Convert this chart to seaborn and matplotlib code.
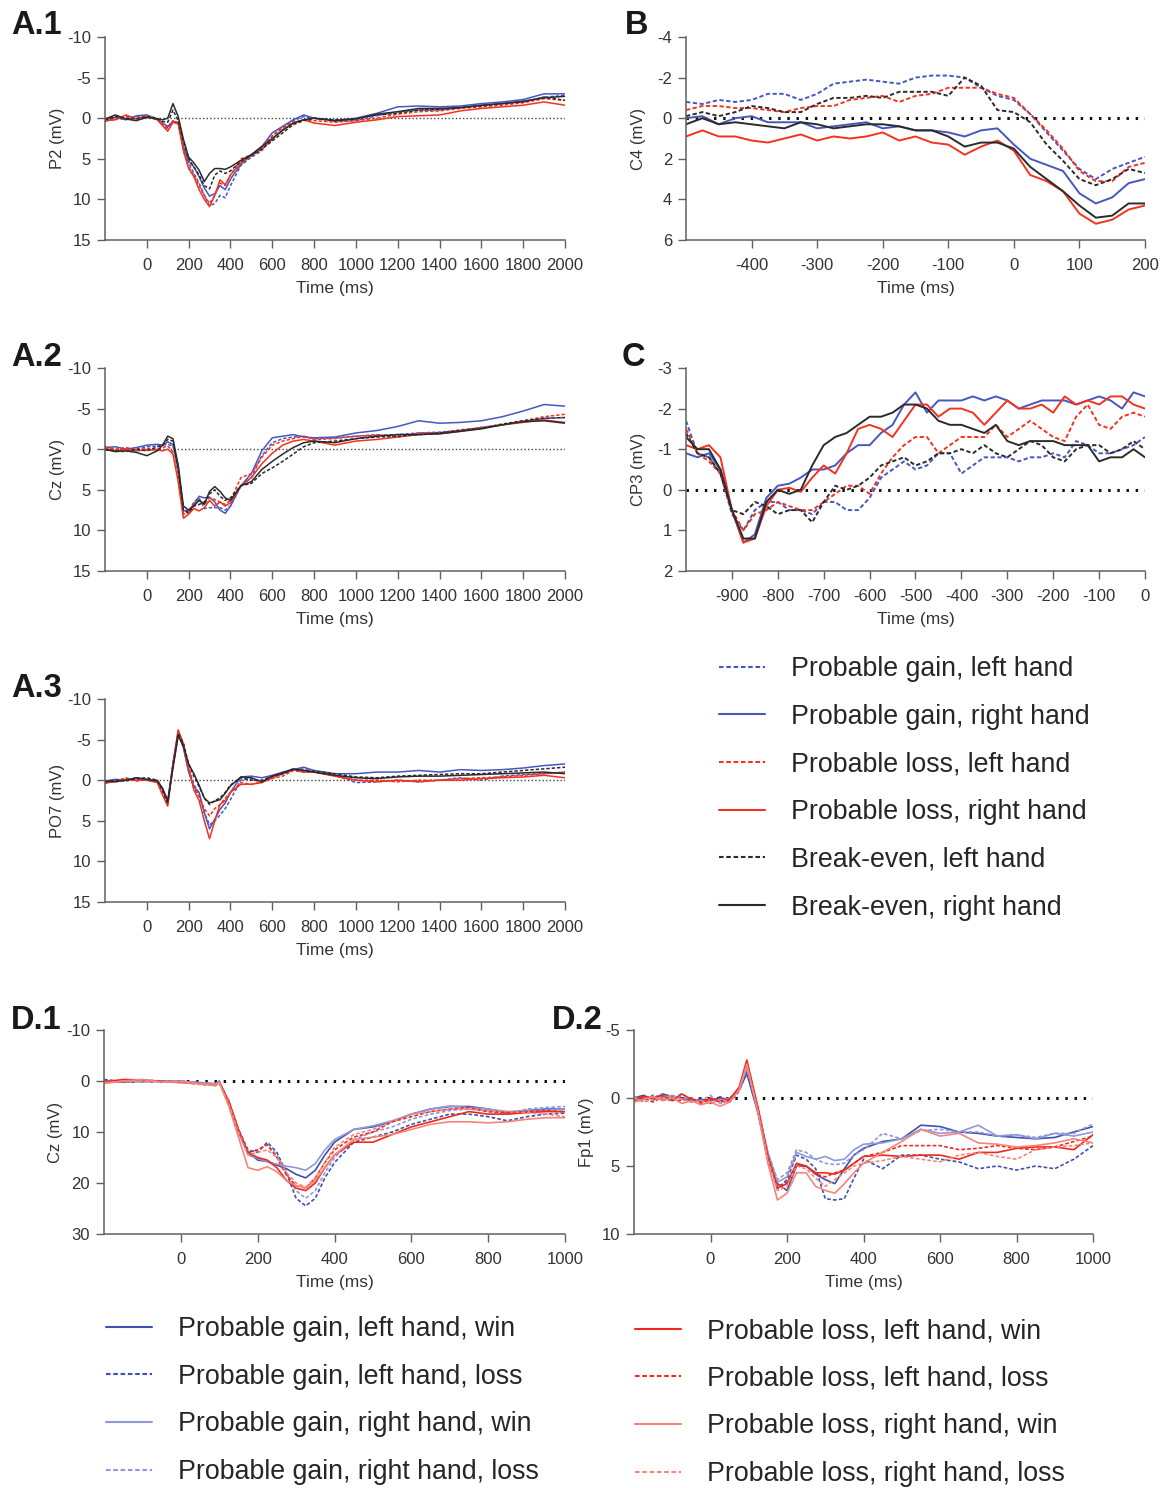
import numpy as np
import pandas as pd
import matplotlib
matplotlib.use("Agg")
import matplotlib.pyplot as plt
from matplotlib.lines import Line2D
import seaborn as sns

sns.set_theme(style="ticks")
plt.rcParams.update({
    'axes.unicode_minus': False,
    'axes.edgecolor': '#606060',
    'axes.linewidth': 1.1,
    'xtick.color': '#606060',
    'ytick.color': '#606060',
    'xtick.labelcolor': '#333333',
    'ytick.labelcolor': '#333333',
    'axes.labelcolor': '#333333',
})
plt.rcParams['font.family'] = ['Liberation Sans', 'DejaVu Sans']

# ---------------- data (µV, positive plotted downwards) ----------------
# A panels: stimulus-locked, -200..2000 ms
T_A = [-200, -150, -100, -50, 0, 50, 75, 100, 125, 150, 175, 200, 225, 250, 275, 300, 325, 350,
       375, 400, 450, 500, 550, 600, 650, 700, 750, 800, 900, 1000, 1100, 1200, 1300, 1400, 1500,
       1600, 1700, 1800, 1900, 2000]

a1_gain_left = [0.3, 0.0, 0.1, -0.2, -0.3, 0.2, 0.8, 1.2, 0.5, 0.6, 3.5, 5.5, 6.8, 8.0, 9.5, 10.8, 10.5, 9.5,
                9.8, 8.3, 5.8, 4.8, 4.0, 2.2, 1.2, 0.3, -0.2, 0.0, 0.4, 0.3, -0.3, -0.8, -1.0, -1.0, -1.3,
                -1.6, -1.8, -2.0, -2.6, -2.8]
a1_gain_right = [0.2, -0.1, 0.2, -0.3, -0.4, 0.1, 0.6, 1.0, 0.4, 0.5, 3.5, 5.3, 6.0, 7.2, 8.6, 9.6, 9.3, 8.3,
                 8.8, 7.5, 5.7, 4.5, 3.5, 1.8, 1.0, 0.2, -0.4, 0.0, 0.3, 0.0, -0.6, -1.4, -1.5, -1.4, -1.5,
                 -1.8, -2.0, -2.3, -3.0, -3.0]
a1_loss_left = [0.4, 0.1, -0.2, 0.0, -0.2, 0.1, 0.7, 1.3, 0.3, 0.6, 4.0, 6.0, 7.0, 8.3, 9.5, 10.5, 9.5, 8.0,
                8.3, 7.0, 5.0, 4.5, 3.5, 2.2, 1.0, 0.5, 0.2, 0.3, 0.5, 0.3, 0.0, -0.5, -0.8, -0.9, -1.2,
                -1.4, -1.6, -1.9, -2.4, -2.2]
a1_loss_right = [0.3, 0.2, -0.4, 0.1, -0.3, 0.2, 0.9, 1.6, 0.5, 0.7, 4.0, 6.2, 7.2, 8.8, 10.0, 10.9, 9.5, 7.6,
                 8.2, 7.0, 5.5, 4.6, 3.8, 2.6, 1.4, 0.6, 0.2, 0.6, 0.9, 0.5, 0.2, -0.2, -0.3, -0.4, -0.9,
                 -1.2, -1.4, -1.6, -2.0, -1.6]
a1_even_left = [0.2, -0.2, 0.0, 0.1, -0.2, 0.0, 0.4, 0.5, -1.0, 0.3, 2.8, 5.0, 6.0, 7.0, 8.3, 8.7, 7.0, 6.5,
                6.8, 6.5, 5.3, 4.6, 3.8, 2.8, 1.8, 0.8, 0.3, 0.0, 0.2, 0.1, -0.4, -0.6, -1.0, -1.1, -1.3,
                -1.5, -1.8, -2.0, -2.6, -2.2]
a1_even_right = [0.1, -0.4, 0.1, 0.3, -0.1, 0.1, 0.2, 0.0, -1.8, -0.2, 2.6, 4.8, 5.5, 6.4, 7.8, 6.8, 6.2, 6.2,
                 6.3, 6.0, 5.2, 4.5, 3.5, 2.5, 1.5, 0.6, 0.2, 0.0, 0.3, 0.1, -0.5, -0.8, -1.2, -1.2, -1.3,
                 -1.6, -1.8, -2.1, -2.5, -2.7]

a2_gain_left = [-0.2, 0.1, -0.1, 0.0, -0.3, -0.4, -0.5, -0.6, -0.4, 2.5, 7.8, 7.8, 6.5, 6.0, 7.3, 7.2, 7.2, 7.2,
                7.5, 7.0, 4.5, 3.5, 0.8, -0.8, -1.3, -1.5, -1.6, -1.3, -1.4, -1.6, -1.7, -1.8, -2.0, -2.1,
                -2.3, -2.7, -3.0, -3.4, -3.8, -3.9]
a2_gain_right = [-0.2, -0.3, 0.0, -0.2, -0.5, -0.6, -0.5, -0.9, -0.6, 2.0, 7.6, 7.5, 6.8, 5.8, 6.0, 5.9, 6.5, 7.5,
                 7.9, 7.0, 4.5, 3.0, 0.2, -1.4, -1.6, -1.8, -1.5, -1.4, -1.5, -2.0, -2.3, -2.8, -3.5, -3.2,
                 -3.3, -3.5, -4.0, -4.7, -5.5, -5.3]
a2_loss_left = [-0.3, 0.0, -0.2, 0.1, -0.1, 0.0, -0.2, -0.4, 0.3, 3.5, 8.0, 7.8, 6.8, 6.2, 6.8, 6.0, 6.2, 6.5,
                6.8, 6.3, 3.5, 3.0, 1.0, -0.5, -1.0, -1.3, -1.6, -1.2, -1.3, -1.6, -1.8, -1.5, -2.0, -2.0,
                -2.4, -2.6, -3.0, -3.5, -4.0, -4.3]
a2_loss_right = [-0.1, 0.2, 0.0, 0.2, 0.1, 0.1, 0.2, 0.0, 0.6, 4.0, 8.5, 8.0, 7.3, 7.6, 7.2, 6.3, 7.0, 6.5,
                 7.0, 6.6, 4.5, 3.5, 1.8, 0.5, -0.5, -1.0, -1.2, -1.0, -0.5, -1.0, -1.2, -1.5, -1.8, -1.9,
                 -2.2, -2.6, -3.0, -3.3, -3.6, -3.3]
a2_even_left = [0.1, 0.2, 0.3, 0.0, 0.2, -0.3, -0.5, -1.2, -1.0, 2.5, 7.5, 7.8, 7.0, 6.8, 6.5, 5.5, 5.0, 5.8,
                6.3, 6.0, 4.5, 4.2, 3.0, 2.3, 1.5, 0.6, -0.3, -0.8, -1.0, -1.3, -1.5, -1.6, -1.8, -2.0,
                -2.3, -2.6, -3.1, -3.5, -3.8, -3.9]
a2_even_right = [0.0, 0.3, 0.2, 0.4, 0.8, 0.2, -0.5, -1.6, -1.3, 2.0, 7.0, 7.5, 7.0, 6.3, 6.8, 5.2, 4.6, 5.2,
                 6.0, 6.3, 4.5, 4.0, 2.5, 1.5, 0.6, -0.2, -0.8, -1.0, -0.8, -1.3, -1.6, -1.8, -1.8, -1.9,
                 -2.2, -2.5, -3.0, -3.4, -3.5, -3.2]

a3_gain_left = [0.2, 0.0, -0.2, -0.1, 0.0, 0.1, 1.2, 2.8, -1.5, -5.5, -4.5, -1.5, 0.5, 1.8, 4.0, 5.5, 5.0, 4.3,
                3.5, 2.4, 0.0, -0.2, 0.3, -0.4, -0.8, -1.2, -1.4, -1.0, -0.6, 0.3, 0.2, 0.0, 0.2, 0.0,
                -0.3, 0.0, -0.5, -0.7, -0.8, -1.0]
a3_gain_right = [0.1, -0.1, 0.0, -0.3, 0.0, 0.0, 1.0, 2.5, -2.0, -5.8, -4.0, -1.0, 0.8, 1.5, 4.0, 6.0, 4.8, 3.6,
                 2.8, 1.5, -0.4, -0.5, -0.3, -0.6, -1.0, -1.3, -1.6, -1.2, -0.8, -0.8, -1.0, -1.0, -1.2,
                 -1.0, -1.3, -1.2, -1.3, -1.5, -1.8, -2.0]
a3_loss_left = [0.3, 0.2, -0.3, 0.1, -0.1, 0.2, 1.5, 3.0, -2.0, -6.0, -4.0, -1.2, 1.0, 2.0, 3.5, 4.4, 3.5, 3.0,
                2.2, 1.5, 0.3, 0.5, 0.2, -0.2, -0.5, -1.2, -1.0, -1.0, -0.5, 0.0, 0.0, 0.2, 0.0, 0.0, -0.2,
                -0.3, -0.4, -0.6, -0.8, -1.0]
a3_loss_right = [0.4, 0.1, -0.1, 0.0, 0.0, 0.3, 1.8, 3.2, -2.0, -6.2, -4.5, -1.5, 1.2, 2.5, 5.0, 7.2, 5.0, 3.0,
                 2.5, 1.5, 0.5, 0.5, 0.3, -0.3, -0.8, -1.3, -1.0, -1.0, -0.5, 0.0, 0.2, 0.0, 0.2, 0.0, 0.0,
                 -0.2, -0.3, -0.4, -0.6, -0.3]
a3_even_left = [0.2, 0.0, 0.1, -0.2, -0.3, 0.0, 1.2, 2.8, -1.8, -5.8, -4.5, -2.0, -0.5, 0.8, 2.2, 3.0, 2.5, 2.2,
                1.5, 0.6, -0.3, 0.0, 0.0, -0.5, -0.8, -1.3, -1.2, -1.1, -0.8, -0.4, -0.3, -0.5, -0.6, -0.7,
                -0.8, -0.8, -1.0, -1.2, -1.4, -1.6]
a3_even_right = [0.1, 0.2, 0.0, -0.3, -0.1, 0.1, 1.0, 2.6, -1.5, -5.5, -4.2, -2.0, -0.8, 0.6, 2.2, 2.8, 2.6, 2.4,
                 1.6, 0.7, -0.4, -0.3, 0.2, -0.5, -0.9, -1.4, -1.2, -1.0, -0.6, -0.3, -0.2, -0.4, -0.5,
                 -0.5, -0.6, -0.7, -0.8, -0.9, -1.0, -0.8]

# B: response-locked C4, -500..200 ms
T_B = [-500, -475, -450, -425, -400, -375, -350, -325, -300, -275, -250, -225, -200, -175, -150, -125,
       -100, -75, -50, -25, 0, 25, 50, 75, 100, 125, 150, 175, 200]
b_gain_left = [-0.8, -0.7, -0.9, -0.8, -0.9, -1.2, -1.2, -0.9, -1.2, -1.7, -1.8, -1.9, -1.8, -1.7, -2.0,
               -2.1, -2.1, -2.0, -1.5, -1.1, -0.9, -0.2, 0.7, 1.6, 2.5, 3.0, 2.5, 2.2, 1.9]
b_gain_right = [0.0, -0.1, 0.3, 0.0, -0.1, 0.2, 0.2, 0.2, 0.5, 0.4, 0.3, 0.2, 0.5, 0.4, 0.6, 0.6, 0.7, 0.9,
                0.6, 0.5, 1.3, 2.0, 2.3, 2.6, 3.7, 4.2, 3.9, 3.2, 3.0]
b_loss_left = [-0.4, -0.6, -0.6, -0.5, -0.5, -0.4, -0.3, -0.5, -0.6, -0.6, -0.9, -1.0, -1.1, -0.8, -1.1,
               -1.2, -1.5, -1.5, -1.5, -1.2, -1.0, -0.2, 0.6, 1.5, 2.6, 3.1, 3.1, 2.4, 2.2]
b_loss_right = [0.9, 0.6, 0.9, 0.9, 1.1, 1.2, 1.0, 0.8, 1.1, 0.9, 1.0, 0.9, 0.7, 1.1, 0.9, 1.2, 1.3, 1.8,
                1.4, 1.1, 1.6, 2.8, 3.1, 3.6, 4.7, 5.2, 5.0, 4.5, 4.3]
b_even_left = [-0.1, -0.3, -0.1, -0.3, -0.6, -0.5, -0.3, -0.3, -0.7, -1.0, -1.0, -1.1, -1.0, -1.3, -1.3,
               -1.3, -1.1, -2.0, -1.6, -0.4, -0.3, 0.2, 1.3, 2.1, 3.0, 3.3, 3.0, 2.5, 2.7]
b_even_right = [0.3, 0.0, 0.3, 0.2, 0.3, 0.4, 0.5, 0.2, 0.3, 0.5, 0.4, 0.3, 0.3, 0.4, 0.6, 0.6, 0.9, 1.4,
                1.2, 1.2, 1.5, 2.4, 3.0, 3.6, 4.3, 4.9, 4.8, 4.2, 4.2]

# C: response-locked CP3, -1000..0 ms
T_C = [-1000, -975, -950, -925, -900, -875, -850, -825, -800, -775, -750, -725, -700, -675, -650, -625,
       -600, -575, -550, -525, -500, -475, -450, -425, -400, -375, -350, -325, -300, -275, -250, -225,
       -200, -175, -150, -125, -100, -75, -50, -25, 0]
c_gain_left = [-1.7, -0.9, -0.8, -0.4, 0.6, 1.0, 0.5, 0.3, 0.3, 0.5, 0.5, 0.6, 0.3, 0.3, 0.5, 0.5, 0.2,
               -0.3, -0.5, -0.7, -0.5, -0.6, -0.9, -0.9, -0.4, -0.6, -0.8, -0.8, -0.8, -0.7, -0.8, -0.8,
               -0.9, -0.8, -1.2, -1.1, -0.9, -0.9, -1.0, -1.1, -1.3]
c_gain_right = [-0.9, -0.8, -0.9, -0.5, 0.5, 1.3, 1.1, 0.2, -0.1, -0.15, -0.3, -0.5, -0.5, -0.6, -0.9, -1.1,
                -1.1, -1.4, -1.6, -2.1, -2.4, -1.9, -2.2, -2.2, -2.2, -2.3, -2.2, -2.3, -2.2, -2.0, -2.1,
                -2.2, -2.2, -2.2, -2.1, -2.2, -2.3, -2.2, -2.0, -2.4, -2.3]
c_loss_left = [-1.5, -0.9, -0.7, -0.4, 0.5, 1.0, 0.6, 0.5, 0.3, 0.4, 0.5, 0.5, 0.3, 0.1, -0.1, -0.1, 0.1,
               -0.4, -0.8, -1.1, -1.3, -1.3, -0.9, -1.1, -1.3, -1.3, -1.3, -1.6, -1.3, -1.5, -1.7, -1.5,
               -1.3, -1.2, -1.8, -2.1, -1.6, -1.5, -1.8, -1.9, -1.8]
c_loss_right = [-1.1, -1.0, -1.1, -0.8, 0.5, 1.3, 1.2, 0.4, 0.0, -0.05, 0.05, -0.3, -0.6, -0.4, -0.9, -1.5,
                -1.6, -1.5, -1.3, -1.7, -2.1, -2.1, -1.8, -2.0, -2.0, -1.9, -1.6, -1.9, -2.2, -2.0, -2.0,
                -2.1, -1.9, -2.3, -2.1, -2.2, -2.1, -2.3, -2.3, -2.1, -2.0]
c_even_left = [-1.4, -0.9, -0.8, -0.4, 0.5, 0.6, 0.3, 0.4, 0.6, 0.5, 0.5, 0.8, 0.3, -0.1, 0.0, -0.1, -0.3,
               -0.6, -0.7, -0.8, -0.6, -0.7, -0.9, -0.9, -1.0, -0.9, -1.1, -0.9, -0.8, -1.0, -1.2, -1.1,
               -0.8, -0.7, -1.0, -1.1, -1.1, -0.9, -1.0, -1.2, -1.0]
c_even_right = [-1.3, -1.0, -1.0, -0.5, 0.5, 1.2, 1.2, 0.3, 0.0, 0.1, 0.0, -0.6, -1.1, -1.3, -1.4, -1.6,
                -1.8, -1.8, -1.9, -2.1, -2.1, -2.0, -1.7, -1.6, -1.6, -1.5, -1.4, -1.6, -1.2, -1.1, -1.2,
                -1.2, -1.2, -1.1, -1.1, -1.1, -0.7, -0.8, -0.8, -1.0, -0.8]

# D.1: feedback-locked Cz, -200..1000 ms
T_D1 = [-200, -150, -100, -50, 0, 50, 90, 100, 125, 150, 175, 200, 225, 250, 275, 300, 325, 350, 375, 400,
        450, 500, 550, 600, 650, 700, 750, 800, 850, 900, 950, 1000]
d1_gl_win = [0.0, 0.2, 0.0, 0.1, 0.0, 0.4, 0.6, 0.0, 4.5, 10.0, 14.0, 15.5, 15.8, 16.5, 17.2, 18.3, 19.0,
             17.5, 14.5, 12.0, 9.5, 9.0, 8.0, 6.5, 5.5, 5.0, 5.0, 5.5, 6.3, 5.8, 5.5, 5.5]
d1_gl_loss = [-0.3, 0.1, -0.2, 0.0, 0.2, 0.5, 0.7, 0.2, 4.0, 9.5, 13.5, 14.0, 12.0, 14.0, 18.0, 23.0, 24.5,
              23.0, 19.0, 16.0, 12.0, 11.0, 10.0, 8.5, 7.5, 6.5, 6.5, 7.0, 7.8, 7.0, 6.5, 6.3]
d1_gr_win = [0.1, 0.0, 0.2, 0.0, 0.1, 0.3, 0.5, 0.1, 4.5, 10.0, 14.5, 15.2, 15.8, 16.3, 16.7, 17.0, 17.5,
             16.2, 13.5, 11.5, 9.5, 8.8, 7.8, 6.5, 5.5, 4.9, 5.2, 5.5, 6.0, 5.8, 5.7, 5.5]
d1_gr_loss = [0.2, -0.2, 0.1, 0.2, 0.0, 0.6, 0.8, 0.3, 4.0, 9.5, 14.0, 13.5, 12.5, 14.5, 18.0, 21.5, 23.0,
              21.5, 18.0, 15.0, 11.5, 10.0, 9.0, 7.5, 6.5, 5.8, 5.5, 6.0, 6.5, 5.5, 5.2, 5.0]
d1_ll_win = [0.2, -0.3, -0.2, 0.1, 0.3, 0.5, 0.8, 0.2, 4.0, 9.5, 14.0, 15.0, 15.5, 17.0, 19.5, 21.0, 21.5,
             20.0, 17.0, 14.5, 12.0, 12.0, 10.5, 9.0, 8.0, 7.0, 6.0, 6.5, 6.5, 6.2, 6.0, 6.0]
d1_ll_loss = [0.0, 0.2, -0.1, 0.1, 0.2, 0.6, 0.9, 0.4, 4.5, 10.0, 14.0, 13.5, 12.5, 15.0, 18.5, 20.5, 21.0,
              19.0, 16.0, 13.5, 11.0, 10.0, 8.0, 7.0, 6.0, 5.5, 5.2, 6.0, 6.2, 6.0, 5.8, 6.0]
d1_lr_win = [0.5, 0.0, -0.3, 0.2, 0.1, 0.5, 0.7, 0.2, 5.0, 11.0, 17.0, 17.5, 16.8, 17.8, 19.5, 20.5, 21.0,
             19.5, 17.0, 14.5, 11.5, 11.0, 10.5, 9.5, 8.5, 8.0, 8.0, 8.2, 8.0, 7.5, 7.2, 7.2]
d1_lr_loss = [0.3, 0.1, 0.0, 0.2, 0.3, 0.7, 0.9, 0.3, 4.5, 10.0, 14.5, 14.0, 13.5, 15.0, 18.0, 20.0, 20.8,
              19.0, 16.0, 13.0, 10.5, 9.5, 8.0, 6.5, 6.0, 5.5, 5.5, 5.8, 6.0, 6.2, 6.5, 7.0]

# D.2: feedback-locked Fp1, -200..1000 ms
T_D2 = [-200, -175, -150, -125, -100, -75, -50, -25, 0, 25, 50, 75, 95, 125, 150, 175, 200, 225, 250, 275,
        300, 325, 350, 375, 400, 450, 500, 550, 600, 650, 700, 750, 800, 850, 900, 950, 1000]
d2_gl_win = [0.0, -0.2, 0.1, -0.3, -0.1, 0.0, 0.2, 0.1, 0.2, 0.0, 0.1, -0.6, -1.8, 1.2, 4.5, 6.3, 6.8, 5.0,
             5.0, 5.6, 6.0, 6.3, 5.2, 4.2, 3.7, 3.2, 3.0, 2.0, 2.1, 2.5, 2.6, 2.8, 2.9, 3.0, 2.9, 2.5, 2.1]
d2_gl_loss = [0.1, 0.2, -0.2, 0.0, 0.2, -0.1, 0.3, 0.0, 0.4, -0.1, 0.3, -0.5, -2.0, 1.0, 4.3, 6.7, 6.0, 4.2,
              4.5, 5.2, 7.4, 7.5, 7.4, 5.9, 4.5, 5.2, 4.2, 4.2, 4.5, 4.7, 5.2, 5.0, 5.3, 5.0, 5.2, 4.5, 3.5]
d2_gr_win = [0.2, 0.0, -0.1, 0.1, -0.2, 0.1, 0.0, 0.3, 0.1, 0.2, 0.0, -0.7, -2.2, 1.0, 4.0, 6.2, 5.8, 4.0,
             4.3, 4.5, 4.3, 4.6, 4.5, 3.8, 3.4, 3.3, 3.0, 2.3, 2.6, 2.5, 2.0, 2.8, 2.7, 3.0, 2.6, 2.8, 2.5]
d2_gr_loss = [-0.1, 0.1, 0.2, -0.2, 0.0, -0.3, 0.1, 0.2, -0.2, 0.4, 0.2, -0.6, -2.2, 0.8, 4.0, 6.0, 5.5, 3.8,
              4.0, 4.5, 4.8, 4.9, 4.8, 4.2, 3.8, 2.6, 3.0, 2.4, 2.3, 2.5, 2.5, 2.8, 2.7, 2.9, 2.6, 2.6, 1.9]
d2_ll_win = [0.1, -0.1, 0.0, -0.2, 0.2, -0.3, 0.1, 0.3, 0.0, 0.2, 0.1, -0.8, -2.8, 0.8, 4.3, 6.6, 6.3, 4.8,
             5.0, 5.5, 5.5, 5.6, 5.3, 4.8, 4.3, 4.2, 4.3, 4.2, 4.2, 4.5, 4.0, 4.0, 3.7, 3.6, 3.6, 3.8, 2.7]
d2_ll_loss = [0.2, 0.0, 0.3, -0.1, 0.1, 0.2, 0.0, 0.4, 0.1, 0.3, 0.2, -0.7, -2.6, 0.9, 4.3, 6.5, 6.2, 4.9,
              5.0, 5.6, 5.8, 5.5, 5.3, 4.8, 4.3, 4.0, 3.5, 3.5, 3.5, 3.8, 3.7, 3.5, 3.7, 3.8, 3.6, 3.2, 2.8]
d2_lr_win = [0.3, 0.1, -0.1, 0.2, 0.0, 0.4, 0.2, 0.5, 0.3, 0.6, 0.3, -0.6, -2.5, 1.2, 4.8, 7.5, 7.0, 5.5,
             5.5, 6.5, 6.8, 7.0, 6.3, 5.5, 4.8, 4.0, 3.2, 2.3, 2.8, 2.6, 3.3, 3.4, 3.6, 3.5, 3.3, 3.0, 3.3]
d2_lr_loss = [0.0, 0.3, 0.1, 0.0, -0.2, 0.1, 0.3, 0.2, 0.4, 0.1, 0.3, -0.6, -2.4, 1.0, 4.5, 6.8, 6.5, 5.0,
              5.2, 5.9, 6.5, 6.0, 5.5, 5.0, 4.8, 4.6, 4.3, 4.5, 4.7, 4.2, 4.0, 4.3, 4.5, 3.8, 3.6, 3.5, 3.3]

ABC_LABELS = ['Probable gain, left hand', 'Probable gain, right hand', 'Probable loss, left hand',
              'Probable loss, right hand', 'Break-even, left hand', 'Break-even, right hand']
D_LABELS = ['Probable gain, left hand, win', 'Probable gain, left hand, loss',
            'Probable gain, right hand, win', 'Probable gain, right hand, loss',
            'Probable loss, left hand, win', 'Probable loss, left hand, loss',
            'Probable loss, right hand, win', 'Probable loss, right hand, loss']

# ---------------- styles ----------------
BLUE, RED, BLACK = '#4657c0', '#f4321e', '#2b2b2b'
DBLUE, LBLUE, DRED, LRED = '#3f50ae', '#8f99da', '#ee2a18', '#f5857b'
DASH = (2.2, 1.3)
abc_colors = dict(zip(ABC_LABELS, [BLUE, BLUE, RED, RED, BLACK, BLACK]))
abc_dashes = dict(zip(ABC_LABELS, [DASH, '', DASH, '', DASH, '']))
d_colors = dict(zip(D_LABELS, [DBLUE, DBLUE, LBLUE, LBLUE, DRED, DRED, LRED, LRED]))
d_dashes = dict(zip(D_LABELS, ['', DASH, '', DASH, '', DASH, '', DASH]))

W, H = 1165, 1488
fig = plt.figure(figsize=(W / 100, H / 100), dpi=100)


def px_rect(left, top, right, bottom):
    return [left / W, 1 - bottom / H, (right - left) / W, (bottom - top) / H]


def draw_panel(rect, times, series, labels, colors, dashes, xlim, xticks, ylim, yticks, ylabel,
               letter, letter_xy, lw=1.1, zero_style='fine'):
    ax = fig.add_axes(px_rect(*rect))
    df = pd.concat([pd.DataFrame({'time': times, 'value': vals, 'cond': name})
                    for name, vals in zip(labels, series)], ignore_index=True)
    if zero_style == 'fine':
        ax.axhline(0, color='#444444', lw=1.0, ls=(0, (1, 1.6)), zorder=1)
    else:
        ax.axhline(0, color='#111111', lw=2.2, ls=(0, (0.8, 2.2)), zorder=1)
    sns.lineplot(data=df, x='time', y='value', hue='cond', style='cond', palette=colors, dashes=dashes,
                 hue_order=labels, style_order=labels, estimator=None, sort=False, legend=False,
                 linewidth=lw, ax=ax)
    ax.set_xlim(*xlim)
    ax.set_ylim(*ylim)
    ax.set_xticks(xticks)
    ax.set_yticks(yticks)
    ax.set_xlabel('Time (ms)', fontsize=12.5, labelpad=6)
    ax.set_ylabel(ylabel, fontsize=12)
    ax.yaxis.set_label_coords(-0.088, 0.5)
    ax.tick_params(direction='out', length=6, width=1.0, labelsize=12)
    ax.tick_params(axis='x', pad=7)
    ax.tick_params(axis='y', pad=4)
    sns.despine(ax=ax)
    fig.text(letter_xy[0] / W, 1 - letter_xy[1] / H, letter, fontsize=23.5, fontweight='bold',
             color='#1a1a1a', va='baseline', ha='left')
    return ax


a_ticks = list(range(0, 2001, 200))
draw_panel((105, 37, 565, 240), T_A,
           [a1_gain_left, a1_gain_right, a1_loss_left, a1_loss_right, a1_even_left, a1_even_right],
           ABC_LABELS, abc_colors, abc_dashes, (-200, 2000), a_ticks, (15, -10), [-10, -5, 0, 5, 10, 15],
           'P2 (mV)', 'A.1', (11, 34))
draw_panel((105, 368, 565, 571), T_A,
           [a2_gain_left, a2_gain_right, a2_loss_left, a2_loss_right, a2_even_left, a2_even_right],
           ABC_LABELS, abc_colors, abc_dashes, (-200, 2000), a_ticks, (15, -10), [-10, -5, 0, 5, 10, 15],
           'Cz (mV)', 'A.2', (11, 366))
draw_panel((105, 699, 565, 902), T_A,
           [a3_gain_left, a3_gain_right, a3_loss_left, a3_loss_right, a3_even_left, a3_even_right],
           ABC_LABELS, abc_colors, abc_dashes, (-200, 2000), a_ticks, (15, -10), [-10, -5, 0, 5, 10, 15],
           'PO7 (mV)', 'A.3', (11, 697))
draw_panel((686, 37, 1145, 240), T_B,
           [b_gain_left, b_gain_right, b_loss_left, b_loss_right, b_even_left, b_even_right],
           ABC_LABELS, abc_colors, abc_dashes, (-500, 200), list(range(-400, 201, 100)), (6, -4),
           [-4, -2, 0, 2, 4, 6], 'C4 (mV)', 'B', (625, 34), lw=1.4, zero_style='bold')
draw_panel((686, 368, 1145, 571), T_C,
           [c_gain_left, c_gain_right, c_loss_left, c_loss_right, c_even_left, c_even_right],
           ABC_LABELS, abc_colors, abc_dashes, (-1000, 0), list(range(-900, 1, 100)), (2, -3),
           [-3, -2, -1, 0, 1, 2], 'CP3 (mV)', 'C', (622, 366), lw=1.4, zero_style='bold')
draw_panel((104, 1030, 565, 1234), T_D1,
           [d1_gl_win, d1_gl_loss, d1_gr_win, d1_gr_loss, d1_ll_win, d1_ll_loss, d1_lr_win, d1_lr_loss],
           D_LABELS, d_colors, d_dashes, (-200, 1000), list(range(0, 1001, 200)), (30, -10),
           [-10, 0, 10, 20, 30], 'Cz (mV)', 'D.1', (11, 1029), lw=1.2, zero_style='bold')
draw_panel((634, 1030, 1093, 1234), T_D2,
           [d2_gl_win, d2_gl_loss, d2_gr_win, d2_gr_loss, d2_ll_win, d2_ll_loss, d2_lr_win, d2_lr_loss],
           D_LABELS, d_colors, d_dashes, (-200, 1000), list(range(0, 1001, 200)), (10, -5),
           [-5, 0, 5, 10], 'Fp1 (mV)', 'D.2', (552, 1029), lw=1.2, zero_style='bold')


def handles_for(labels, colors, dashes):
    hs = []
    for lab in labels:
        d = dashes[lab]
        ls = '-' if d == '' else (0, d)
        hs.append(Line2D([], [], color=colors[lab], lw=1.5, ls=ls))
    return hs


leg_kw = dict(loc='upper left', frameon=False, fontsize=19.3, handlelength=1.72, handletextpad=0.95,
              labelspacing=0.81, borderpad=0, borderaxespad=0)
fig.legend(handles_for(ABC_LABELS, abc_colors, abc_dashes), ABC_LABELS,
           bbox_to_anchor=(719 / W, 1 - 656 / H), **leg_kw)
fig.legend(handles_for(D_LABELS[:4], d_colors, d_dashes), D_LABELS[:4],
           bbox_to_anchor=(106 / W, 1 - 1316 / H), **leg_kw)
fig.legend(handles_for(D_LABELS[4:], d_colors, d_dashes), D_LABELS[4:],
           bbox_to_anchor=(635 / W, 1 - 1318 / H), **leg_kw)

fig.savefig('out.png', dpi=100, facecolor='white')
